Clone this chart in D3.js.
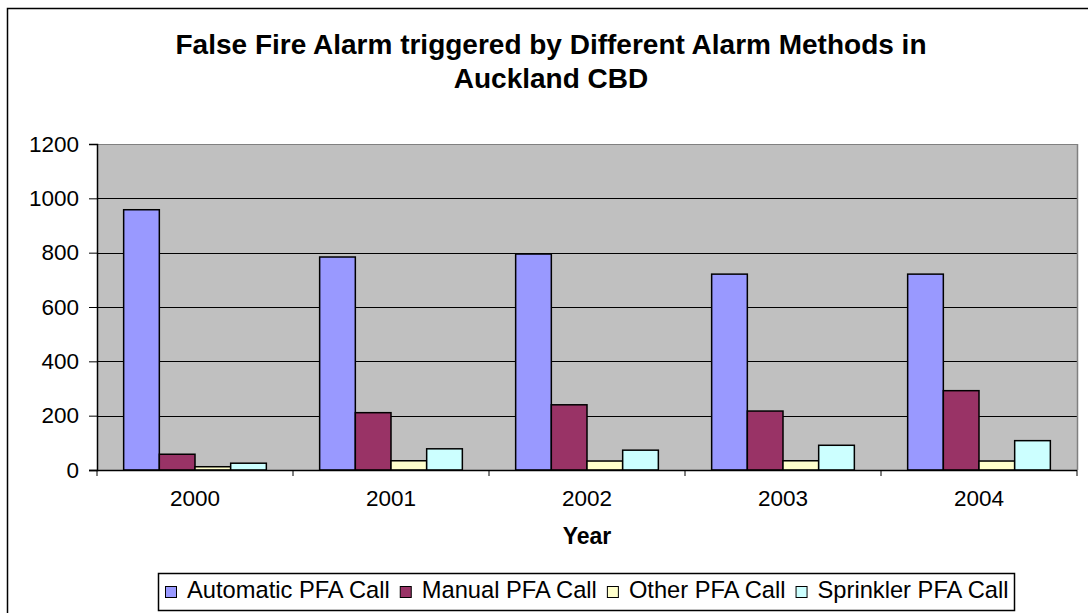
<!DOCTYPE html>
<html>
<head>
<meta charset="utf-8">
<script src="https://cdn.jsdelivr.net/npm/d3@7"></script>
<style>
  html, body { margin: 0; padding: 0; background: #fff; }
  svg { display: block; font-family: "Liberation Sans", Arial, sans-serif; }
</style>
</head>
<body>
<svg id="chart" width="1088" height="613"></svg>
<script>
// Yearly counts of false fire alarms by alarm method
const years = ["2000", "2001", "2002", "2003", "2004"];
const seriesNames = ["Automatic PFA Call", "Manual PFA Call", "Other PFA Call", "Sprinkler PFA Call"];
const automatic = [958, 784, 795, 721, 721];
const manual = [58, 211, 240, 217, 292];
const other = [12, 34, 33, 34, 33];
const sprinkler = [25, 78, 73, 91, 108];
const yTicks = [0, 200, 400, 600, 800, 1000, 1200];
const titleLines = ["False Fire Alarm triggered by Different Alarm Methods in", "Auckland CBD"];
const xTitle = "Year";

const seriesValues = [automatic, manual, other, sprinkler];
const colors = ["#9999FF", "#993366", "#FFFFCC", "#CCFFFF"];

const rows = years.map((y, i) => ({
  year: y,
  values: seriesNames.map((s, k) => ({ key: s, value: seriesValues[k][i], color: colors[k] }))
}));

const svg = d3.select("#chart");
const FONT = 22.5;
const LEGEND_FONT = 23.7;

// outer chart frame (runs past the right and bottom of the view)
svg.append("rect")
  .attr("x", 7.5).attr("y", 8.5)
  .attr("width", 1200).attr("height", 700)
  .attr("fill", "#fff").attr("stroke", "#000").attr("stroke-width", 1.5);

const plot = { left: 97, right: 1077, top: 144, bottom: 470 };

const x = d3.scaleBand().domain(years)
  .range([plot.left, plot.right])
  .paddingInner(0.272).paddingOuter(0.136);
const xSub = d3.scaleBand().domain(seriesNames).range([0, x.bandwidth()]);
const y = d3.scaleLinear().domain([0, 1200]).range([plot.bottom, plot.top]);

// plot background
svg.append("rect")
  .attr("x", plot.left).attr("y", plot.top)
  .attr("width", plot.right - plot.left).attr("height", plot.bottom - plot.top)
  .attr("fill", "#C0C0C0");

// horizontal gridlines
svg.append("g").selectAll("line")
  .data(yTicks.filter(t => t > 0))
  .join("line")
  .attr("x1", plot.left).attr("x2", plot.right)
  .attr("y1", d => Math.round(y(d)) + 0.5).attr("y2", d => Math.round(y(d)) + 0.5)
  .attr("stroke", d => d === 1200 ? "#808080" : "#000")
  .attr("stroke-width", 1);

// plot frame right edge
svg.append("line")
  .attr("x1", plot.right + 0.5).attr("x2", plot.right + 0.5)
  .attr("y1", plot.top).attr("y2", plot.bottom)
  .attr("stroke", "#808080").attr("stroke-width", 1.5);

// bars
svg.append("g").selectAll("g")
  .data(rows)
  .join("g")
  .attr("transform", d => `translate(${x(d.year)},0)`)
  .selectAll("rect")
  .data(d => d.values)
  .join("rect")
  .attr("x", d => xSub(d.key))
  .attr("width", xSub.bandwidth())
  .attr("y", d => y(d.value))
  .attr("height", d => y(0) - y(d.value))
  .attr("fill", d => d.color)
  .attr("stroke", "#000")
  .attr("stroke-width", 1.5);

// y axis
const yAxis = svg.append("g")
  .attr("transform", `translate(${plot.left},0)`)
  .call(d3.axisLeft(y).tickValues(yTicks).tickFormat(d3.format("d")).tickSize(8).tickPadding(10));
yAxis.select(".domain").attr("stroke", "#000").attr("stroke-width", 1.5);
yAxis.selectAll(".tick line").attr("stroke", "#000");
yAxis.selectAll("text").attr("font-size", FONT).attr("fill", "#000")
  .attr("font-family", "'Liberation Sans', Arial, sans-serif");

// x axis: ticks at category boundaries, labels at centres
const xAxisG = svg.append("g").attr("transform", `translate(0,${plot.bottom})`);
xAxisG.append("line")
  .attr("x1", plot.left - 8).attr("x2", plot.right)
  .attr("y1", 0.5).attr("y2", 0.5)
  .attr("stroke", "#000").attr("stroke-width", 1.5);
const step = x.step();
const boundaries = d3.range(years.length + 1).map(i => plot.left + i * step);
xAxisG.selectAll("line.tk")
  .data(boundaries)
  .join("line").attr("class", "tk")
  .attr("x1", d => d).attr("x2", d => d)
  .attr("y1", 0).attr("y2", 6)
  .attr("stroke", "#000");
xAxisG.selectAll("text")
  .data(years)
  .join("text")
  .attr("x", d => x(d) + x.bandwidth() / 2)
  .attr("y", 36)
  .attr("text-anchor", "middle")
  .attr("font-size", FONT)
  .text(d => d);

// axis title
svg.append("text")
  .attr("x", (plot.left + plot.right) / 2).attr("y", 544)
  .attr("text-anchor", "middle")
  .attr("font-size", 23).attr("font-weight", "bold")
  .text(xTitle);

// chart title
svg.append("g").selectAll("text")
  .data(titleLines)
  .join("text")
  .attr("x", 551).attr("y", (d, i) => 54 + i * 34)
  .attr("text-anchor", "middle")
  .attr("font-size", 28).attr("font-weight", "bold")
  .text(d => d);

// legend: entries laid out left to right by measured text width
const legend = svg.append("g");
legend.append("rect")
  .attr("x", 158.5).attr("y", 573.5)
  .attr("width", 856).attr("height", 37)
  .attr("fill", "#fff").attr("stroke", "#000").attr("stroke-width", 1.5);
const items = legend.selectAll("g.item")
  .data(seriesNames)
  .join("g").attr("class", "item");
items.append("text")
  .attr("x", 22).attr("y", 0)
  .attr("font-size", LEGEND_FONT)
  .text(d => d);
let cursor = 165;
items.each(function () {
  const g = d3.select(this);
  const w = g.select("text").node().getComputedTextLength();
  g.attr("transform", `translate(${cursor},598)`);
  cursor += 22 + w + 10;
});
items.insert("rect", "text")
  .attr("x", 0.5).attr("y", -11.5).attr("width", 11).attr("height", 11)
  .attr("fill", (d, i) => colors[i]).attr("stroke", "#000").attr("stroke-width", 1);
</script>
</body>
</html>
